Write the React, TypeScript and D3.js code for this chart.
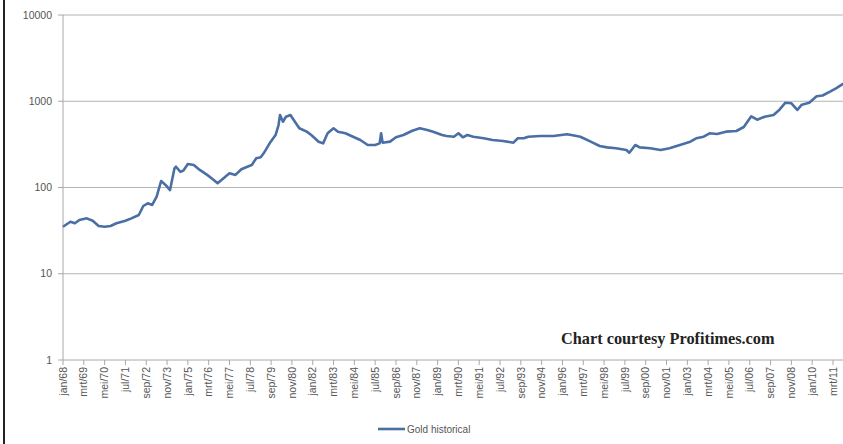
import React from 'react';
import * as d3 from 'd3';

// gold price, USD/oz (log scale)
const months = [
  '1968-01', '1968-06', '1968-09', '1968-12', '1969-05', '1969-09', '1970-01', '1970-05',
  '1970-09', '1971-01', '1971-07', '1971-11', '1972-04', '1972-07', '1972-10', '1973-01',
  '1973-04', '1973-07', '1973-10', '1974-01', '1974-04', '1974-05', '1974-08', '1974-10',
  '1975-01', '1975-05', '1975-09', '1976-02', '1976-06', '1976-09', '1977-01', '1977-05',
  '1977-09', '1978-01', '1978-05', '1978-08', '1978-11', '1979-02', '1979-04', '1979-08',
  '1979-12', '1980-02', '1980-03', '1980-05', '1980-07', '1980-10', '1981-01', '1981-04',
  '1981-09', '1981-12', '1982-05', '1982-08', '1982-11', '1983-03', '1983-06', '1983-11',
  '1984-03', '1984-09', '1985-02', '1985-07', '1985-10', '1985-11', '1985-12', '1986-05',
  '1986-09', '1987-02', '1987-08', '1988-01', '1988-06', '1988-10', '1989-04', '1989-07',
  '1989-12', '1990-03', '1990-06', '1990-09', '1991-01', '1991-08', '1992-02', '1992-09',
  '1993-04', '1993-07', '1993-11', '1994-02', '1994-10', '1995-07', '1996-04', '1996-07',
  '1997-01', '1997-08', '1998-02', '1998-07', '1999-01', '1999-08', '1999-10', '2000-02',
  '2000-05', '2000-12', '2001-07', '2002-01', '2002-08', '2003-03', '2003-07', '2003-12',
  '2004-04', '2004-09', '2005-03', '2005-10', '2006-03', '2006-08', '2006-12', '2007-05',
  '2007-11', '2008-03', '2008-07', '2008-11', '2009-03', '2009-06', '2009-11', '2010-04',
  '2010-08', '2011-01', '2011-05', '2011-10',
];
const prices = [
  35.1, 40.1, 38.5, 42.0, 43.9, 41.2, 35.8, 35.1,
  35.8, 38.5, 41.2, 43.9, 48.0, 61.0, 65.6, 62.7,
  78.2, 119, 107, 93.5, 167, 174, 152, 157,
  187, 182, 160, 140, 124, 112, 128, 146,
  140, 163, 174, 182, 218, 224, 249, 325,
  406, 530, 693, 579, 662, 693, 579, 486,
  444, 406, 340, 325, 425, 486, 444, 425,
  395, 355, 311, 311, 325, 425, 331, 340,
  382, 406, 455, 486, 464, 444, 406, 395,
  388, 425, 382, 406, 388, 372, 355, 346,
  331, 372, 372, 388, 395, 395, 414, 406,
  388, 340, 303, 292, 285, 272, 253, 311,
  292, 285, 272, 285, 311, 340, 372, 388,
  425, 417, 444, 452, 503, 669, 611, 662,
  693, 798, 962, 947, 792, 912, 962, 1141,
  1166, 1291, 1413, 1598,
];

const tickLabels = [
  'jan/68', 'mrt/69', 'mei/70', 'jul/71', 'sep/72', 'nov/73', 'jan/75', 'mrt/76',
  'mei/77', 'jul/78', 'sep/79', 'nov/80', 'jan/82', 'mrt/83', 'mei/84', 'jul/85',
  'sep/86', 'nov/87', 'jan/89', 'mrt/90', 'mei/91', 'jul/92', 'sep/93', 'nov/94',
  'jan/96', 'mrt/97', 'mei/98', 'jul/99', 'sep/00', 'nov/01', 'jan/03', 'mrt/04',
  'mei/05', 'jul/06', 'sep/07', 'nov/08', 'jan/10', 'mrt/11',
];
const yTicks = [1, 10, 100, 1000, 10000];
const TICK_STEP = 14; // months between category labels

const W = 843;
const H = 444;
const left = 63;
const right = 833;
const top = 15;
const bottom = 360;

// months since jan 1968
const monthIndex = (s: string) => {
  const [y, m] = s.split('-').map(Number);
  return (y - 1968) * 12 + (m - 1);
};

const App: React.FC = () => {
  const x = d3.scaleLinear().domain([0, (tickLabels.length - 1) * TICK_STEP]).range([left, right]);
  const y = d3.scaleLog().domain([1, 10000]).range([bottom, top]);

  const data = months.map((m, i) => ({ t: monthIndex(m), v: prices[i] }));
  const line = d3
    .line<{ t: number; v: number }>()
    .x(d => x(d.t))
    .y(d => y(d.v));

  const font = '"Liberation Sans", Arial, sans-serif';

  return (
    <svg
      width={W}
      height={H}
      style={{ position: 'absolute', left: 0, top: 0, background: '#fff' }}
    >
      {/* left frame edge */}
      <line x1={4} x2={4} y1={0} y2={H} stroke="#222" strokeWidth={2} />

      {/* gridlines + y labels */}
      {yTicks.map(t => (
        <g key={t}>
          {t > 1 && (
            <line x1={left} x2={W} y1={y(t)} y2={y(t)} stroke="#b4b4b4" strokeWidth={1} />
          )}
          <line x1={left - 5} x2={left} y1={y(t)} y2={y(t)} stroke="#a8a8a8" />
          <text
            x={52}
            y={y(t)}
            dy="0.35em"
            textAnchor="end"
            fontSize={10.5}
            fontFamily={font}
            fill="#555"
          >
            {t}
          </text>
        </g>
      ))}

      {/* axes */}
      <line x1={left} x2={left} y1={top} y2={bottom} stroke="#a8a8a8" />
      <line x1={left} x2={W} y1={bottom} y2={bottom} stroke="#a8a8a8" />

      {tickLabels.map((lab, i) => {
        const tx = x(i * TICK_STEP);
        return (
          <g key={lab}>
            <line x1={tx} x2={tx} y1={bottom} y2={bottom + 5} stroke="#a8a8a8" />
            <text
              transform={`translate(${tx},${bottom + 7}) rotate(-90)`}
              dy="0.35em"
              textAnchor="end"
              fontSize={10.5}
              fontFamily={font}
              fill="#555"
            >
              {lab}
            </text>
          </g>
        );
      })}

      <path d={line(data) ?? ''} fill="none" stroke="#4a6fa5" strokeWidth={2.6} strokeLinejoin="round" />

      <text
        x={561}
        y={344}
        fontSize={16.3}
        fontWeight="bold"
        fontFamily='"Liberation Serif", "Times New Roman", serif'
        fill="#222"
      >
        Chart courtesy Profitimes.com
      </text>

      {/* legend */}
      <line x1={378} x2={405} y1={429} y2={429} stroke="#4a6fa5" strokeWidth={2.6} />
      <text x={407} y={429} dy="0.35em" fontSize={10} fontFamily={font} fill="#555">
        Gold historical
      </text>
    </svg>
  );
};

export default App;
